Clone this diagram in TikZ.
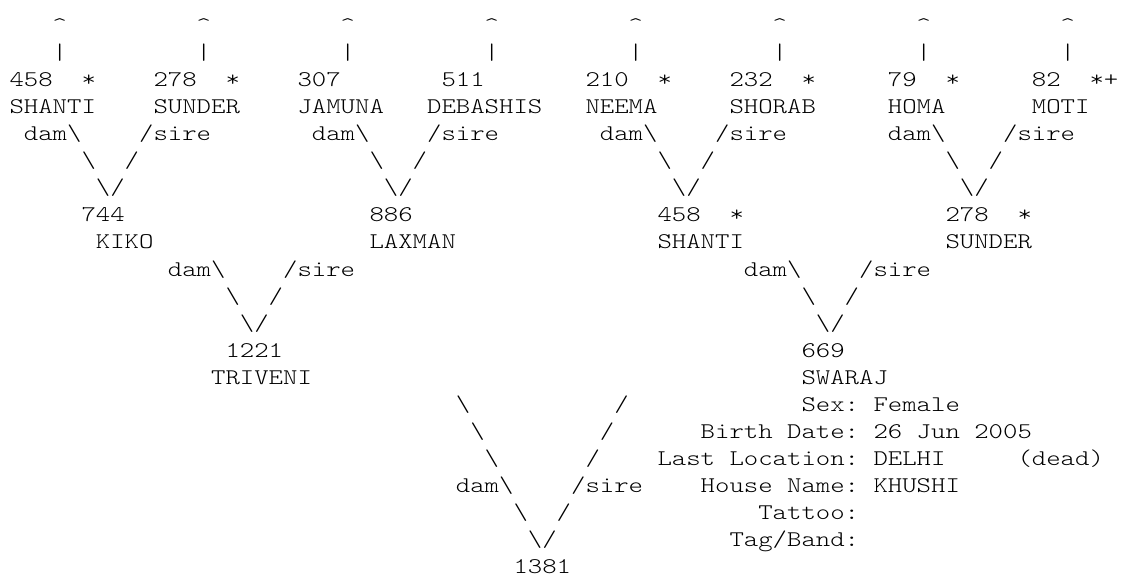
\documentclass[tikz,border=0pt]{standalone}
\usepackage{fontspec}
\setmonofont[FakeStretch=1.2245]{Latin Modern Mono Light}
\newcommand\asciifont{\ttfamily\fontsize{22.4}{27}\selectfont}
\newcommand\bs{\textbackslash}
\newcommand\T[4]{\node[txt] (#1) at (#2,#3) {#4};}
\begin{document}
\begin{tikzpicture}[x=14.4pt, y=-27.08pt,
  txt/.style={inner sep=0pt, outer sep=0pt, anchor=base west, font=\asciifont, text=black}]
\fill[white] (-9.5pt,32.3pt) rectangle (1111.5pt,-546.7pt);
\useasboundingbox (-9.5pt,32.3pt) rectangle (1111.5pt,-546.7pt);
% row 0 and 1: arrows to earlier generations
\T{c1}{3}{0}{\textasciicircum} \T{c2}{13}{0}{\textasciicircum}
\T{c3}{23}{0}{\textasciicircum} \T{c4}{33}{0}{\textasciicircum}
\T{c5}{43}{0}{\textasciicircum} \T{c6}{53}{0}{\textasciicircum}
\T{c7}{63}{0}{\textasciicircum} \T{c8}{73}{0}{\textasciicircum}
\T{b1}{3}{1}{|} \T{b2}{13}{1}{|} \T{b3}{23}{1}{|} \T{b4}{33}{1}{|}
\T{b5}{43}{1}{|} \T{b6}{53}{1}{|} \T{b7}{63}{1}{|} \T{b8}{73}{1}{|}
% row 2: ids of great-grandparents
\T{id458a}{0}{2}{458} \T{s458a}{5}{2}{*}
\T{id278a}{10}{2}{278} \T{s278a}{15}{2}{*}
\T{id307}{20}{2}{307}
\T{id511}{30}{2}{511}
\T{id210}{40}{2}{210} \T{s210}{45}{2}{*}
\T{id232}{50}{2}{232} \T{s232}{55}{2}{*}
\T{id79}{61}{2}{79} \T{s79}{65}{2}{*}
\T{id82}{71}{2}{82} \T{s82}{75}{2}{*+}
% row 3: names
\T{nmShantiA}{0}{3}{SHANTI} \T{nmSunderA}{10}{3}{SUNDER}
\T{nmJamuna}{20}{3}{JAMUNA} \T{nmDebashis}{29}{3}{DEBASHIS}
\T{nmNeema}{40}{3}{NEEMA} \T{nmShorab}{50}{3}{SHORAB}
\T{nmHoma}{61}{3}{HOMA} \T{nmMoti}{71}{3}{MOTI}
% rows 4-6: first row of V connectors
\T{damA}{1}{4}{dam\bs} \T{sireA}{9}{4}{/sire}
\T{damB}{21}{4}{dam\bs} \T{sireB}{29}{4}{/sire}
\T{damC}{41}{4}{dam\bs} \T{sireC}{49}{4}{/sire}
\T{damD}{61}{4}{dam\bs} \T{sireD}{69}{4}{/sire}
\T{lA}{5}{5}{\bs} \T{rA}{8}{5}{/}
\T{lB}{25}{5}{\bs} \T{rB}{28}{5}{/}
\T{lC}{45}{5}{\bs} \T{rC}{48}{5}{/}
\T{lD}{65}{5}{\bs} \T{rD}{68}{5}{/}
\T{vA}{6}{6}{\bs/} \T{vB}{26}{6}{\bs/} \T{vC}{46}{6}{\bs/} \T{vD}{66}{6}{\bs/}
% rows 7-8: grandparents
\T{id744}{5}{7}{744} \T{id886}{25}{7}{886}
\T{id458b}{45}{7}{458} \T{s458b}{50}{7}{*}
\T{id278b}{65}{7}{278} \T{s278b}{70}{7}{*}
\T{nmKiko}{6}{8}{KIKO} \T{nmLaxman}{25}{8}{LAXMAN}
\T{nmShantiB}{45}{8}{SHANTI} \T{nmSunderB}{65}{8}{SUNDER}
% rows 9-11: second row of V connectors
\T{damE}{11}{9}{dam\bs} \T{sireE}{19}{9}{/sire}
\T{damF}{51}{9}{dam\bs} \T{sireF}{59}{9}{/sire}
\T{lE}{15}{10}{\bs} \T{rE}{18}{10}{/}
\T{lF}{55}{10}{\bs} \T{rF}{58}{10}{/}
\T{vE}{16}{11}{\bs/} \T{vF}{56}{11}{\bs/}
% rows 12-13: parents
\T{id1221}{15}{12}{1221} \T{id669}{55}{12}{669}
\T{nmTriveni}{14}{13}{TRIVENI} \T{nmSwaraj}{55}{13}{SWARAJ}
% rows 14-19: last V and details
\T{lG1}{31}{14}{\bs} \T{rG1}{42}{14}{/}
\T{lG2}{32}{15}{\bs} \T{rG2}{41}{15}{/}
\T{lG3}{33}{16}{\bs} \T{rG3}{40}{16}{/}
\T{damG}{31}{17}{dam\bs} \T{sireG}{39}{17}{/sire}
\T{lG4}{35}{18}{\bs} \T{rG4}{38}{18}{/}
\T{vG}{36}{19}{\bs/}
\T{kSex}{55}{14}{Sex:} \T{vSex}{60}{14}{Female}
\T{kBirthA}{48}{15}{Birth} \T{kBirthB}{54}{15}{Date:}
\T{vDay}{60}{15}{26} \T{vMon}{63}{15}{Jun} \T{vYear}{67}{15}{2005}
\T{kLocA}{45}{16}{Last} \T{kLocB}{50}{16}{Location:}
\T{vLoc}{60}{16}{DELHI} \T{vDead}{70}{16}{(dead)}
\T{kHouseA}{48}{17}{House} \T{kHouseB}{54}{17}{Name:} \T{vHouse}{60}{17}{KHUSHI}
\T{kTattoo}{52}{18}{Tattoo:}
\T{kTag}{50}{19}{Tag/Band:}
% row 20: the animal
\T{id1381}{35}{20}{1381}
\end{tikzpicture}
\end{document}
